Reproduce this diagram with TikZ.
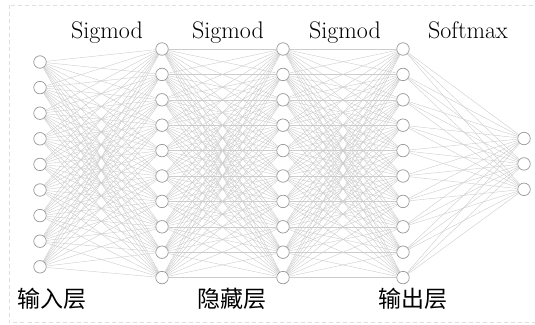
\documentclass[tikz,border=0pt]{standalone}
\usepackage{fontspec}
\newfontfamily\cjk{Noto Sans CJK SC}
\pgfdeclarelayer{background}
\pgfsetlayers{background,main}
\begin{document}
\begin{tikzpicture}[x=1pt,y=-1pt,
  neuron/.style={circle,draw=gray!80,fill=white,line width=0.7pt,minimum size=12.5pt,inner sep=0pt},
  conn/.style={draw=gray!40,line width=0.4pt},
  lbl/.style={font=\fontsize{24}{28}\selectfont,anchor=base,inner sep=0pt},
  cnlbl/.style={font=\cjk\fontsize{23}{27}\selectfont,inner sep=0pt},
  frame/.style={draw=gray!25,line width=0.8pt,dash pattern=on 4pt off 3pt}]
\useasboundingbox (0,0) rectangle (535,324);
\draw[frame] (9,5) rectangle (545,322.5);
\foreach \i in {1,...,9} \node[neuron] (a\i) at (40,{62+(\i-1)*25.6}) {};
\foreach \i in {1,...,10} \node[neuron] (b\i) at (162,{49+(\i-1)*25.4}) {};
\foreach \i in {1,...,10} \node[neuron] (c\i) at (283,{49+(\i-1)*25.4}) {};
\foreach \i in {1,...,10} \node[neuron] (d\i) at (403,{49+(\i-1)*25.4}) {};
\foreach \i in {1,...,3} \node[neuron] (e\i) at (524,{138.5+(\i-1)*25.4}) {};
\begin{pgfonlayer}{background}
\foreach \i in {1,...,9} \foreach \j in {1,...,10} \draw[conn] (a\i) -- (b\j);
\foreach \i in {1,...,10} \foreach \j in {1,...,10} \draw[conn] (b\i) -- (c\j);
\foreach \i in {1,...,10} \foreach \j in {1,...,10} \draw[conn] (c\i) -- (d\j);
\foreach \i in {1,...,10} \foreach \j in {1,...,3} \draw[conn] (d\i) -- (e\j);
\end{pgfonlayer}
\node[lbl] (s1) at (107,38) {Sigmod};
\node[lbl] (s2) at (228,38) {Sigmod};
\node[lbl] (s3) at (345,38) {Sigmod};
\node[lbl] (s4) at (468,38) {Softmax};
\node[cnlbl] (l1) at (52,299) {输入层};
\node[cnlbl] (l2) at (232,299) {隐藏层};
\node[cnlbl] (l3) at (413,299) {输出层};
\end{tikzpicture}
\end{document}
